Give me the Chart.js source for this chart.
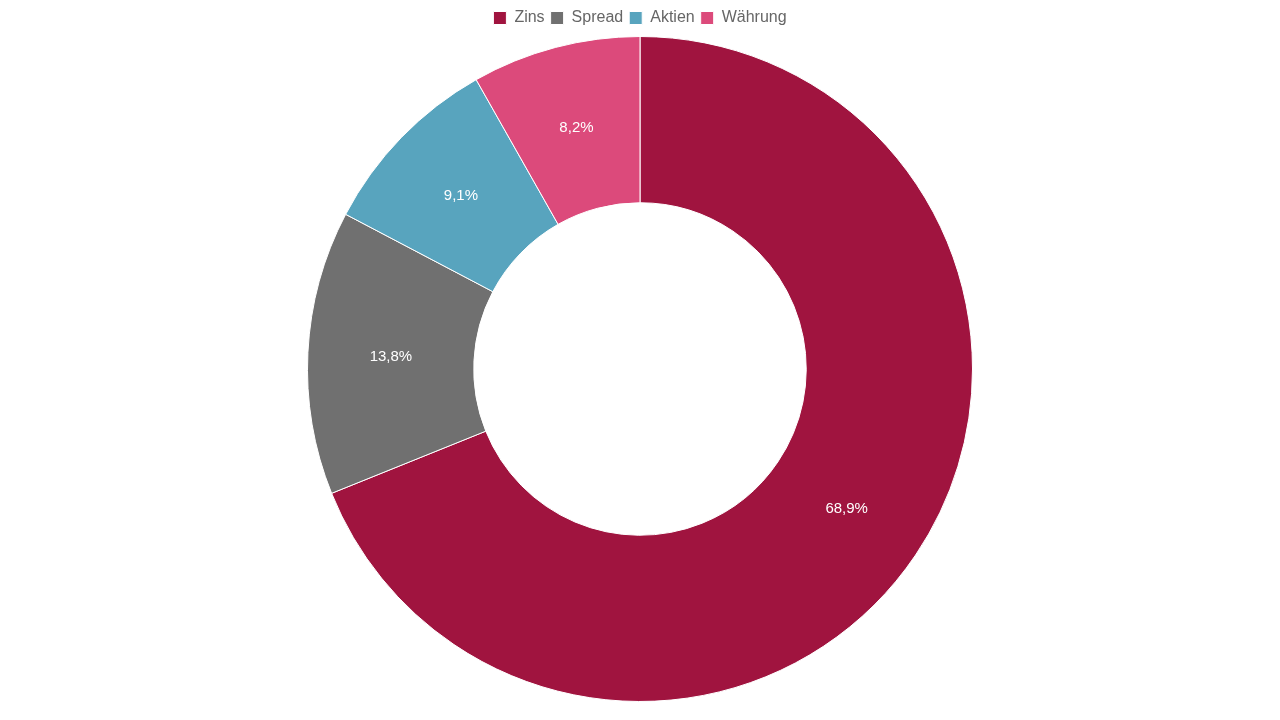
<!DOCTYPE html>
<html>
<head>
<meta charset="utf-8">
<script src="https://cdn.jsdelivr.net/npm/chart.js@4"></script>
<style>
  html, body { margin: 0; padding: 0; background: #fff; }
  #wrap { width: 1280px; height: 720px; }
</style>
</head>
<body>
<div id="wrap"><canvas id="chart"></canvas></div>
<script>
const categories = ['Zins', 'Spread', 'Aktien', 'Währung'];
const values = [68.9, 13.8, 9.1, 8.2];
const colors = ['#A0143F', '#707070', '#58A4BE', '#DC4A7B'];

// draws the percentage inside each slice
const sliceLabels = {
  id: 'sliceLabels',
  afterDatasetsDraw(chart) {
    const ctx = chart.ctx;
    const meta = chart.getDatasetMeta(0);
    ctx.save();
    ctx.fillStyle = '#fff';
    ctx.font = '15px "Liberation Sans", Arial, sans-serif';
    ctx.textAlign = 'center';
    ctx.textBaseline = 'middle';
    meta.data.forEach((arc, i) => {
      const p = arc.tooltipPosition();
      ctx.fillText(values[i].toFixed(1).replace('.', ',') + '%', p.x, p.y);
    });
    ctx.restore();
  }
};

new Chart(document.getElementById('chart'), {
  type: 'doughnut',
  data: {
    labels: categories,
    datasets: [{
      data: values,
      backgroundColor: colors,
      borderColor: '#fff',
      borderWidth: 1
    }]
  },
  options: {
    responsive: true,
    maintainAspectRatio: false,
    animation: false,
    cutout: '50%',
    layout: { padding: { top: 4, bottom: 18 } },
    plugins: {
      legend: {
        position: 'top',
        labels: {
          boxWidth: 13,
          boxHeight: 13,
          padding: 6,
          color: '#666',
          font: { size: 16, family: '"Liberation Sans", Arial, sans-serif' }
        }
      },
      tooltip: { enabled: false }
    }
  },
  plugins: [sliceLabels]
});
</script>
</body>
</html>
